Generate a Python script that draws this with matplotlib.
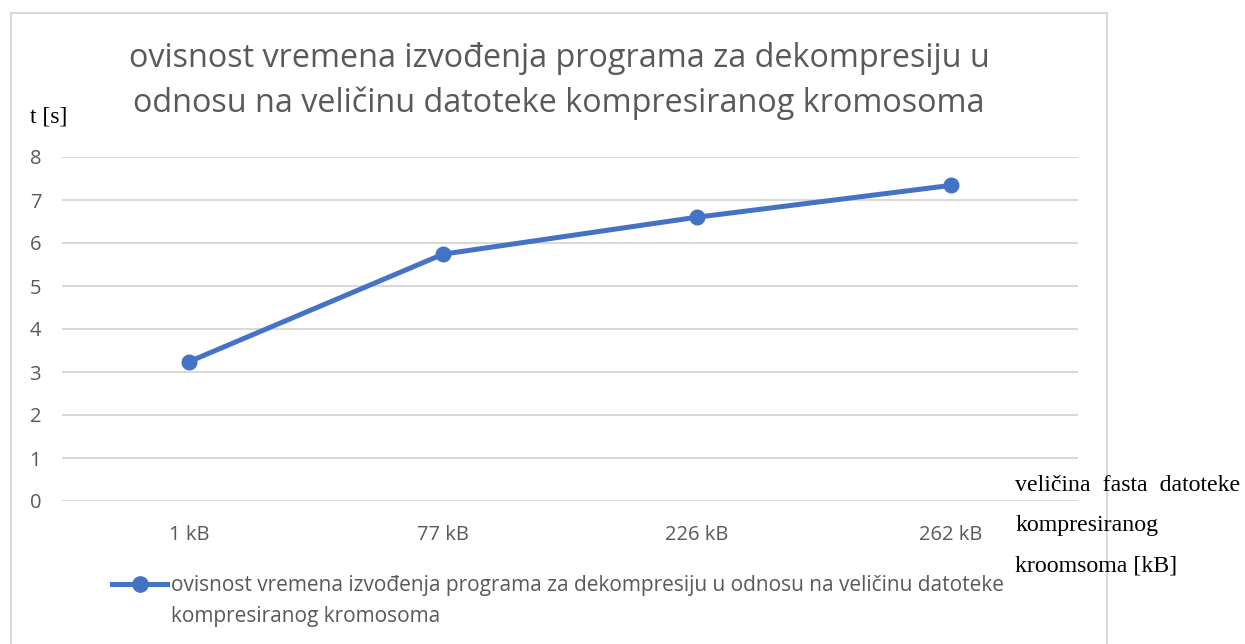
import matplotlib
matplotlib.use('Agg')
import matplotlib.pyplot as plt
from matplotlib.lines import Line2D
from matplotlib.patches import Rectangle

# podaci procitani s grafa
kategorije = ['1 kB', '77 kB', '226 kB', '262 kB']
vrijeme = [3.24, 5.74, 6.60, 7.34]
y_oznake = [0, 1, 2, 3, 4, 5, 6, 7, 8]

naslov = ('ovisnost vremena izvođenja programa za dekompresiju u\n'
          'odnosu na veličinu datoteke kompresiranog kromosoma')
legenda_1 = 'ovisnost vremena izvođenja programa za dekompresiju u odnosu na veličinu datoteke'
legenda_2 = 'kompresiranog kromosoma'
x_naslov = 'veličina  fasta  datoteke\nkompresiranog\nkroomsoma [kB]'

plava = '#4472C4'
siva_tekst = '#595959'
siva_linija = '#d9d9d9'

plt.rcParams['font.family'] = ['Open Sans', 'DejaVu Sans']

fig = plt.figure(figsize=(12.45, 6.44), dpi=100)
ax = fig.add_axes([62 / 1245, 143 / 644, 1016 / 1245, 344 / 644])

# okvir grafikona
fig.patches.append(Rectangle((11 / 1245, -0.05), 1096 / 1245, 1 - 13 / 644 + 0.05,
                             transform=fig.transFigure, fill=False,
                             edgecolor=siva_linija, linewidth=1.5))

x = list(range(len(kategorije)))
ax.plot(x, vrijeme, color=plava, linewidth=3.6, marker='o', markersize=10.5,
        solid_capstyle='round', zorder=3)

ax.set_xlim(-0.5, len(kategorije) - 0.5)
ax.set_ylim(0, 8)
ax.set_yticks(y_oznake)
ax.set_xticks(x)
ax.set_xticklabels(kategorije)
ax.grid(axis='y', color=siva_linija, linewidth=1.5)
ax.set_axisbelow(True)
for s in ax.spines.values():
    s.set_visible(False)
ax.tick_params(axis='both', length=0, labelsize=14.5, labelcolor=siva_tekst)
ax.tick_params(axis='y', pad=15)
ax.tick_params(axis='x', pad=17)

fig.text(559 / 1245, 1 - 81 / 644, naslov, ha='center', va='center',
         fontsize=23.3, color=siva_tekst, linespacing=1.45)

fig.text(30 / 1245, 1 - 117 / 644, 't [s]', ha='left', va='center',
         family=['Liberation Serif'], fontsize=17, color='black')
fig.text(1015 / 1245, 1 - 526 / 644, x_naslov, ha='left', va='center',
         family=['Liberation Serif'], fontsize=17.2, color='black', linespacing=2.2)

# legenda s dva retka, ruka uz prvi redak
h1 = Line2D([], [], color=plava, linewidth=3.6, marker='o', markersize=11)
h2 = Line2D([], [], alpha=0)
fig.legend([h1, h2], [legenda_1, legenda_2], loc='center left',
           bbox_to_anchor=(112 / 1245, 1 - 601 / 644), frameon=False,
           fontsize=15, labelcolor=siva_tekst, handlelength=2.64,
           handletextpad=0.2, labelspacing=0.45, borderpad=0, borderaxespad=0)

fig.savefig('out.png', dpi=100, facecolor='white')
